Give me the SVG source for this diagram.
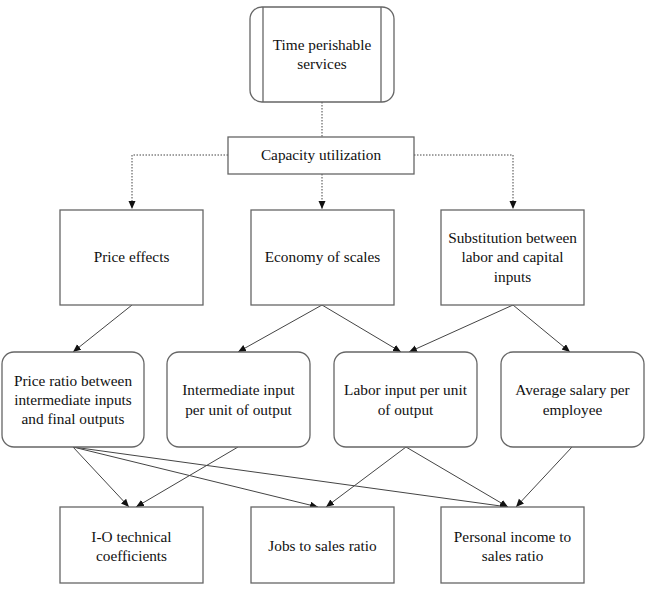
<svg xmlns="http://www.w3.org/2000/svg" width="649" height="591" viewBox="0 0 649 591">
<defs>
<style>
.box{fill:#fff;stroke:#666;stroke-width:1.3}
.ln{fill:none;stroke:#444;stroke-width:1}
.dot{fill:none;stroke:#444;stroke-width:1;stroke-dasharray:1.5 1.5}
text{font-family:'Liberation Serif','Times New Roman',serif;font-size:15.3px;fill:#111;text-anchor:middle}
</style>
<marker id="ah" markerUnits="userSpaceOnUse" markerWidth="9" markerHeight="8" refX="8" refY="3.5" orient="auto">
<path d="M0,0 L8,3.5 L0,7 z" fill="#111"/>
</marker>
</defs>
<rect width="649" height="591" fill="#fff"/>
<g id="connectors">
<line class="dot" x1="322" y1="102" x2="322" y2="137"/>
<path class="dot" d="M228,155 H132 V209" marker-end="url(#ah)"/>
<path class="dot" d="M322,174 V209" marker-end="url(#ah)"/>
<path class="dot" d="M414,155 H513 V209" marker-end="url(#ah)"/>
<line class="ln" x1="132" y1="305" x2="73" y2="352" marker-end="url(#ah)"/>
<line class="ln" x1="322" y1="305" x2="238" y2="352" marker-end="url(#ah)"/>
<line class="ln" x1="322" y1="305" x2="401" y2="352" marker-end="url(#ah)"/>
<line class="ln" x1="513" y1="305" x2="409" y2="352" marker-end="url(#ah)"/>
<line class="ln" x1="513" y1="305" x2="570" y2="352" marker-end="url(#ah)"/>
<line class="ln" x1="73" y1="447" x2="129" y2="507" marker-end="url(#ah)"/>
<line class="ln" x1="73" y1="447" x2="318" y2="507" marker-end="url(#ah)"/>
<line class="ln" x1="73" y1="447" x2="508" y2="507" marker-end="url(#ah)"/>
<line class="ln" x1="238" y1="447" x2="136" y2="507" marker-end="url(#ah)"/>
<line class="ln" x1="406" y1="447" x2="326" y2="507" marker-end="url(#ah)"/>
<line class="ln" x1="406" y1="447" x2="508" y2="507" marker-end="url(#ah)"/>
<line class="ln" x1="572" y1="447" x2="516" y2="507" marker-end="url(#ah)"/>
</g>
<g id="time-perishable">
<rect class="box" x="250" y="7" width="144" height="95" rx="12"/>
<line class="box" x1="263" y1="7" x2="263" y2="102"/>
<line class="box" x1="381" y1="7" x2="381" y2="102"/>
<text x="322" y="50">Time perishable</text>
<text x="322" y="69">services</text>
</g>
<g id="capacity">
<rect class="box" x="228" y="137" width="186" height="37"/>
<text x="321" y="160">Capacity utilization</text>
</g>
<g id="price-effects">
<rect class="box" x="60" y="210" width="143" height="95"/>
<text x="131.5" y="262">Price effects</text>
</g>
<g id="economy">
<rect class="box" x="251" y="210" width="143" height="95"/>
<text x="322.5" y="262">Economy of scales</text>
</g>
<g id="substitution">
<rect class="box" x="441" y="210" width="143" height="95"/>
<text x="512.5" y="243">Substitution between</text>
<text x="512.5" y="262">labor and capital</text>
<text x="512.5" y="282">inputs</text>
</g>
<g id="price-ratio">
<rect class="box" x="2" y="352" width="142" height="95" rx="12"/>
<text x="73" y="386">Price ratio between</text>
<text x="73" y="405">intermediate inputs</text>
<text x="73" y="424">and final outputs</text>
</g>
<g id="intermediate">
<rect class="box" x="167" y="352" width="143" height="95" rx="12"/>
<text x="238.5" y="395">Intermediate input</text>
<text x="238.5" y="415">per unit of output</text>
</g>
<g id="labor">
<rect class="box" x="334" y="352" width="143" height="95" rx="12"/>
<text x="405.5" y="395">Labor input per unit</text>
<text x="405.5" y="415">of output</text>
</g>
<g id="salary">
<rect class="box" x="501" y="352" width="143" height="95" rx="12"/>
<text x="572.5" y="395">Average salary per</text>
<text x="572.5" y="415">employee</text>
</g>
<g id="io">
<rect class="box" x="60" y="507" width="143" height="76"/>
<text x="131.5" y="542">I-O technical</text>
<text x="131.5" y="561">coefficients</text>
</g>
<g id="jobs">
<rect class="box" x="251" y="507" width="143" height="76"/>
<text x="322.5" y="551">Jobs to sales ratio</text>
</g>
<g id="income">
<rect class="box" x="441" y="507" width="143" height="76"/>
<text x="512.5" y="542">Personal income to</text>
<text x="512.5" y="561">sales ratio</text>
</g>
</svg>
